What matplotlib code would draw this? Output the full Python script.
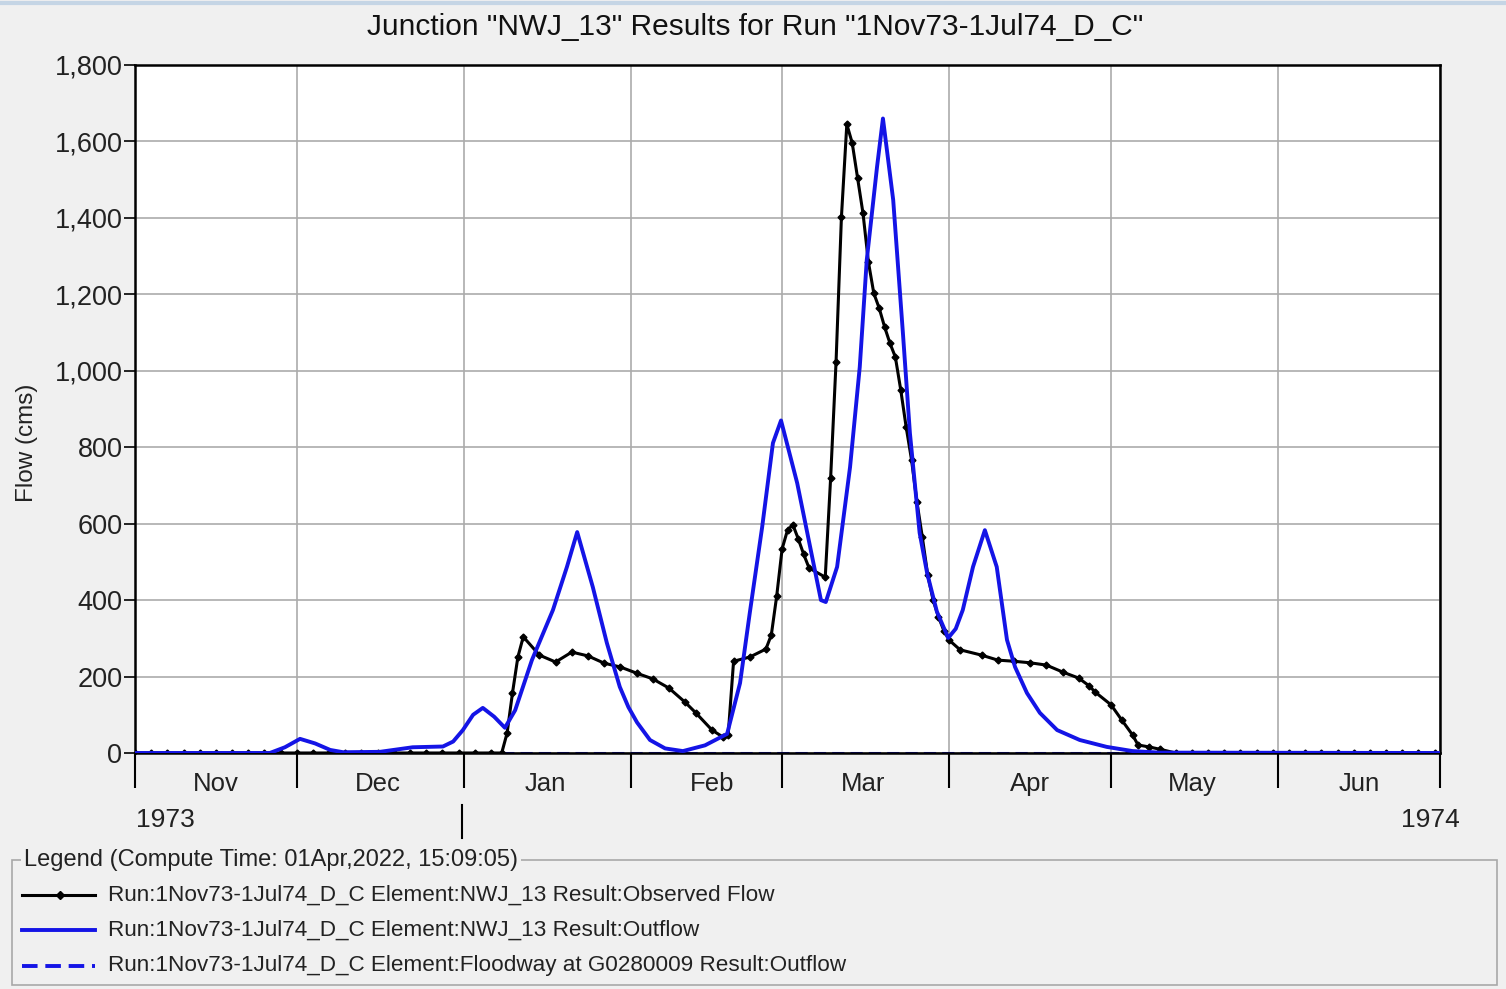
import matplotlib
matplotlib.use('Agg')
import matplotlib.pyplot as plt
import matplotlib.dates as mdates
from matplotlib.lines import Line2D
from matplotlib.patches import Rectangle
from datetime import datetime, timedelta

plt.rcParams['font.family'] = ['Liberation Sans', 'DejaVu Sans']

start = datetime(1973, 11, 1)
end = datetime(1974, 7, 1)

# Observed flow (days after 1 Nov 1973, cms)
obs_days = [0, 3, 6, 9, 12, 15, 18, 21, 24, 27, 30, 33, 36, 39, 42, 45, 48, 51, 54, 57, 60, 63, 66,
            68, 69, 70, 71, 72, 75, 78, 81, 84, 87, 90, 93, 96, 99, 102, 104, 107, 109, 110, 111,
            114, 117, 118, 119, 120, 121, 122, 123, 124, 125, 128, 129, 130, 131, 132, 133, 134,
            135, 136, 137, 138, 139, 140, 141, 142, 143, 144, 145, 146, 147, 148, 149, 150, 151,
            153, 157, 160, 163, 166, 169, 172, 175, 177, 178, 181, 183, 185, 186, 188, 190,
            193, 196, 199, 202, 205, 208, 211, 214, 217, 220, 223, 226, 229, 232, 235, 238, 241]
obs_flow = [0, 0, 0, 0, 0, 0, 0, 0, 0, 0, 0, 0, 0, 0, 0, 0, 0, 0, 0, 0, 0, 0, 0,
            0, 52, 157, 251, 304, 256, 238, 264, 254, 235, 225, 209, 194, 170, 133, 105, 60, 42, 48, 240,
            251, 272, 309, 411, 534, 583, 597, 560, 520, 484, 460, 720, 1022, 1402, 1645, 1596, 1504,
            1412, 1285, 1203, 1164, 1115, 1072, 1036, 950, 853, 767, 657, 565, 466, 400, 356, 320, 295,
            270, 256, 243, 240, 236, 230, 212, 196, 175, 160, 126, 86, 47, 21, 16, 10,
            0, 0, 0, 0, 0, 0, 0, 0, 0, 0, 0, 0, 0, 0, 0, 0, 0]

# Simulated outflow at NWJ_13
out_days = [0, 25, 27.8, 30.6, 33.4, 36.2, 38.6, 45.4, 51.5, 57.1, 59, 60.8, 62.7, 64.5, 66.6,
            68.6, 70.5, 73.6, 77.5, 80.1, 82, 84.9, 87.5, 89.9, 91.5, 93.1, 95.5, 98.3, 101.6, 105.7,
            109.8, 112.2, 114.0, 116.3, 118.3, 119.8, 122.8, 125.2, 127.2, 128.1, 130.2, 132.6,
            134.4, 135.7, 137.6, 138.7, 140.6, 142.4, 143.7, 145.5, 146.9, 148.7, 150.8, 152.2, 153.5,
            155.4, 157.6, 159.8, 161.7, 163.2, 165.4, 167.8, 171, 175.2, 180.2, 185, 190, 242]
out_flow = [0, 0, 15, 37, 25, 8, 2, 3, 15, 17, 30, 60, 100, 118, 95,
            66, 112, 243, 374, 487, 578, 434, 288, 173, 120, 80, 34, 12, 5, 20,
            50, 183, 366, 591, 811, 870, 706, 539, 400, 395, 487, 748,
            1010, 1290, 1533, 1660, 1447, 1099, 837, 576, 470, 370, 301, 325, 374,
            487, 583, 487, 296, 225, 157, 105, 60, 34, 16, 5, 1, 0]

# Floodway at G0280009 outflow
fw_days = [0, 242]
fw_flow = [0, 0]

y_ticks = [0, 200, 400, 600, 800, 1000, 1200, 1400, 1600, 1800]

title = 'Junction "NWJ_13" Results for Run "1Nov73-1Jul74_D_C"'
legend_title = 'Legend (Compute Time: 01Apr,2022, 15:09:05)'
legend_labels = ['Run:1Nov73-1Jul74_D_C Element:NWJ_13 Result:Observed Flow',
                 'Run:1Nov73-1Jul74_D_C Element:NWJ_13 Result:Outflow',
                 'Run:1Nov73-1Jul74_D_C Element:Floodway at G0280009 Result:Outflow']

W, H = 1506, 989
BG = '#f0f0f0'
BLUE = '#1414e6'


def fx(x):
    return x / W


def fy(y):
    return 1 - y / H


def to_dates(days):
    return [start + timedelta(days=d) for d in days]


fig = plt.figure(figsize=(W / 100, H / 100), dpi=100, facecolor=BG)
ax = fig.add_axes([fx(135), fy(753), (1440 - 135) / W, (753 - 65) / H])
ax.set_facecolor('white')

ax.plot(to_dates(fw_days), fw_flow, color=BLUE, lw=2.2, ls=(0, (4, 2)), zorder=2)
ax.plot(to_dates(obs_days), obs_flow, color='black', lw=2.2, marker='D', ms=3.5, zorder=3)
ax.plot(to_dates(out_days), out_flow, color=BLUE, lw=2.8, zorder=4)

ax.set_xlim(start, end)
ax.set_ylim(0, 1800)
ax.set_yticks(y_ticks)
ax.set_yticklabels([f'{v:,}' for v in y_ticks])
ax.tick_params(axis='y', length=8, width=1.2, labelsize=19.5, pad=1, colors='black',
               labelcolor='#222222')

ax.xaxis.set_major_locator(mdates.MonthLocator())
ax.xaxis.set_major_formatter(plt.NullFormatter())
ax.xaxis.set_minor_locator(mdates.MonthLocator(bymonthday=16))
ax.xaxis.set_minor_formatter(mdates.DateFormatter('%b'))
ax.tick_params(axis='x', which='major', length=25, width=1.5, direction='out')
ax.tick_params(axis='x', which='minor', length=0, labelsize=18.5, pad=14, labelcolor='#222222')

ax.grid(True, which='major', color='#ababab', lw=1.2)
ax.set_axisbelow(True)
for s in ax.spines.values():
    s.set_linewidth(1.8)
    s.set_color('black')

fig.text(fx(755), fy(27), title, ha='center', va='center', fontsize=21.5, color='#111111')
fig.text(fx(27), fy(443), 'Flow (cms)', rotation=90, ha='center', va='center', fontsize=17.5,
         color='#222222')
fig.text(fx(136), fy(820), '1973', ha='left', va='center', fontsize=19, color='#222222')
fig.text(fx(1460), fy(820), '1974', ha='right', va='center', fontsize=19, color='#222222')
fig.add_artist(Line2D([fx(462), fx(462)], [fy(805), fy(838)], color='black', lw=1.5))

# window top edge
fig.add_artist(Line2D([0, 1], [fy(3), fy(3)], color='#c5d5e5', lw=3))

# legend panel
fig.add_artist(Rectangle((fx(12), fy(985)), fx(1497) - fx(12), fy(860) - fy(985),
                         facecolor='none', edgecolor='#a8a8a8', lw=1.2))
fig.text(fx(24), fy(860), legend_title, ha='left', va='center', fontsize=17, color='#222222',
         bbox=dict(facecolor=BG, edgecolor='none', pad=2))
rows = [895, 930, 966]
styles = [dict(color='black', lw=2.2), dict(color=BLUE, lw=2.8), dict(color=BLUE, lw=2.8, ls=(0, (4, 2)))]
for yy, st, lab in zip(rows, styles, legend_labels):
    fig.add_artist(Line2D([fx(22), fx(95)], [fy(yy), fy(yy)], **st))
    fig.text(fx(108), fy(yy), lab, ha='left', va='center', fontsize=16.2, color='#222222')
fig.add_artist(Line2D([fx(60)], [fy(895)], color='black', marker='D', ms=4, lw=0))

fig.savefig('out.png', dpi=100, facecolor=BG)
